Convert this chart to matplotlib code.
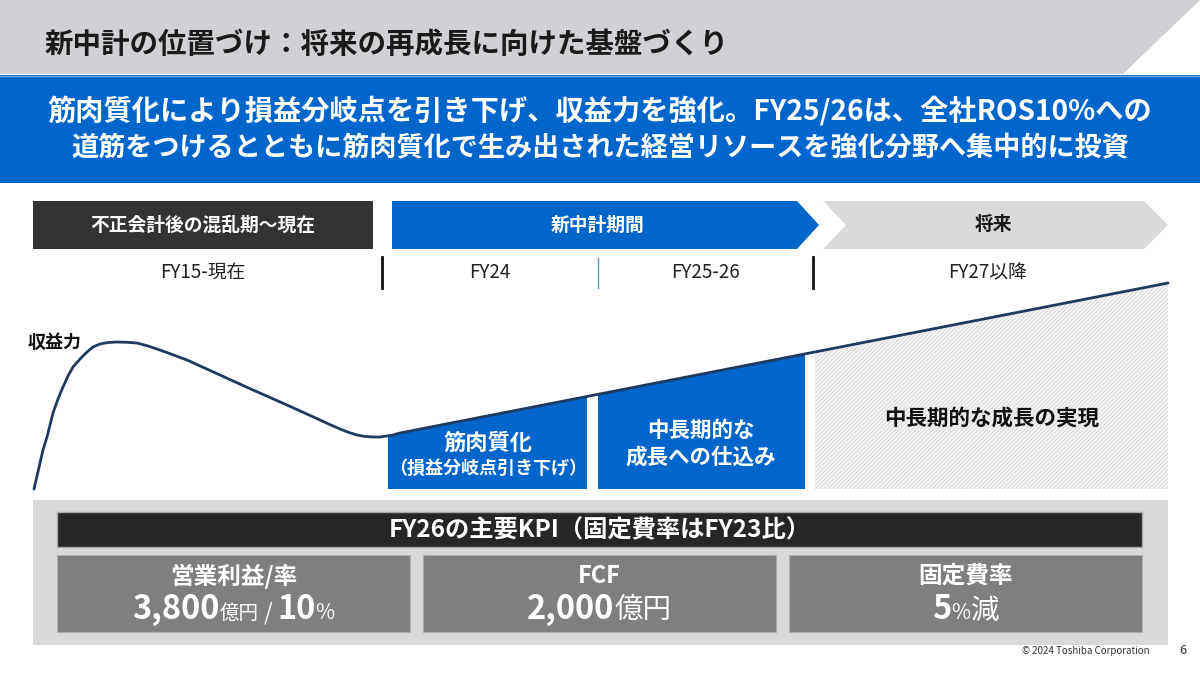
import numpy as np
import matplotlib
matplotlib.use("Agg")
import matplotlib.pyplot as plt
from matplotlib.patches import Polygon, Rectangle

plt.rcParams['font.family'] = ['Noto Sans CJK JP', 'DejaVu Sans']
plt.rcParams['hatch.linewidth'] = 0.5

# ---- data ----
title = "新中計の位置づけ：将来の再成長に向けた基盤づくり"
banner = ["筋肉質化により損益分岐点を引き下げ、収益力を強化。FY25/26は、全社ROS10%への",
          "道筋をつけるとともに筋肉質化で生み出された経営リソースを強化分野へ集中的に投資"]
phases = ["不正会計後の混乱期～現在", "新中計期間", "将来"]
periods = ["FY15-現在", "FY24", "FY25-26", "FY27以降"]
curve_label = "収益力"
# earning-power curve (slide px)
curve_x = [34, 37, 40, 43, 47, 50, 53, 58, 63, 68, 73, 80, 87, 93, 100, 108, 117, 127,
           137, 148, 160, 187, 220, 253, 287, 320, 332, 340, 349, 357, 365, 373, 380,
           387, 393, 400, 1168]
curve_y = [489, 476, 463, 450, 437, 425, 413, 399, 387, 376, 367, 359, 352, 347, 344,
           342.5, 342, 342.3, 343, 346, 350, 360, 375, 390, 405, 420, 425.5, 429, 432.5,
           435, 436.5, 437, 437, 436, 435, 433, 283]
stage_labels = [["筋肉質化", "（損益分岐点引き下げ）"],
                ["中長期的な", "成長への仕込み"],
                ["中長期的な成長の実現"]]
kpi_header = "FY26の主要KPI（固定費率はFY23比）"
kpi_names = ["営業利益/率", "FCF", "固定費率"]
# value pieces: (text, size, bold)
kpi_values = [[("3,800", 23.5, True), ("億円", 14, False), (" / ", 16, False),
               ("10", 23.5, True), ("%", 15, False)],
              [("2,000", 23.5, True), ("億円", 20.5, False)],
              [("5", 23.5, True), ("%", 15, False), ("減", 20.5, False)]]
footer = "© 2024 Toshiba Corporation"
page = "6"

BLUE = "#0066CC"

fig = plt.figure(figsize=(12, 6.75), dpi=100)
ax = fig.add_axes([0, 0, 1, 1])
ax.set_xlim(0, 1200)
ax.set_ylim(675, 0)
ax.axis('off')

# header band + title
ax.add_patch(Polygon([(0, 0), (1200, 0), (1123, 74), (0, 74)], closed=True,
                     fc="#D1D0D5", ec="none"))
ax.text(45, 45, title, fontsize=20.5, fontweight='bold', color="#1a1a1a", va='center')

# blue banner
ax.add_patch(Rectangle((0, 75), 1200, 108, fc=BLUE, ec="none"))
ax.plot([0, 1200], [75.5, 75.5], color="#6FA8DC", lw=1)
ax.text(600, 112, banner[0], fontsize=20.3, fontweight='bold', color='white',
        ha='center', va='center')
ax.text(600, 148, banner[1], fontsize=19.5, fontweight='bold', color='white',
        ha='center', va='center')

# phase arrows
ax.add_patch(Rectangle((33, 201), 340, 48, fc="#333333", ec="none"))
ax.add_patch(Polygon([(392, 201), (797, 201), (819, 225), (797, 249), (392, 249)],
                     closed=True, fc=BLUE, ec="none"))
ax.add_patch(Polygon([(823, 201), (1144, 201), (1168, 225), (1144, 249), (823, 249),
                      (846, 225)], closed=True, fc="#D9D9D9", ec="none"))
for x, lab, col in zip([203, 598, 993], phases, ['white', 'white', '#1a1a1a']):
    ax.text(x, 225, lab, fontsize=13.5, fontweight='bold', color=col,
            ha='center', va='center')

# period labels + separators
for x, lab in zip([203, 490, 705, 987], periods):
    ax.text(x, 273, lab, fontsize=13.5, color='#222222', ha='center', va='center')
ax.plot([382, 382], [257, 288], color='#111111', lw=2)
ax.plot([598, 598], [258, 288], color='#5B9BD5', lw=1)
ax.plot([813, 813], [257, 288], color='#111111', lw=2)


def top_at(x):
    return np.interp(x, curve_x, curve_y)


# stage boxes under the curve
base = 489
for x0, x1 in [(388, 587), (598, 805)]:
    ax.add_patch(Polygon([(x0, base), (x0, top_at(x0)), (x1, top_at(x1)), (x1, base)],
                         closed=True, fc=BLUE, ec="none", zorder=2))
ax.add_patch(Polygon([(815, base), (815, top_at(815)), (1168, top_at(1168)), (1168, base)],
                     closed=True, fc="#F5F5F5", ec="#CCCCCC", lw=0, hatch='////////',
                     zorder=2))

ax.text(488, 443, stage_labels[0][0], fontsize=16, fontweight='bold', color='white',
        ha='center', va='center', zorder=4)
ax.text(488, 468, stage_labels[0][1], fontsize=13, fontweight='bold', color='white',
        ha='center', va='center', zorder=4)
ax.text(701, 430, stage_labels[1][0], fontsize=15.5, fontweight='bold', color='white',
        ha='center', va='center', zorder=4)
ax.text(701, 457, stage_labels[1][1], fontsize=15.5, fontweight='bold', color='white',
        ha='center', va='center', zorder=4)
ax.text(992, 418, stage_labels[2][0], fontsize=15.5, fontweight='bold', color='#111111',
        ha='center', va='center', zorder=4)

# curve
ax.plot(curve_x, curve_y, color="#1F3A5F", lw=2, zorder=3,
        solid_capstyle='round', solid_joinstyle='round')
ax.text(28, 343, curve_label, fontsize=13, fontweight='bold', color='#111111',
        va='center', ha='left')

# KPI area
ax.add_patch(Rectangle((33, 500), 1135, 145, fc="#D9D9D9", ec="none"))
ax.add_patch(Rectangle((57, 512), 1085, 35, fc="#262626", ec="#A6A6A6", lw=1))
ax.text(600, 530, kpi_header, fontsize=17.5, fontweight='bold', color='white',
        ha='center', va='center')

renderer = fig.canvas.get_renderer()
for i, (name, pieces) in enumerate(zip(kpi_names, kpi_values)):
    x0 = 57 + i * 366
    ax.add_patch(Rectangle((x0, 555), 353, 77, fc="#7F7F7F", ec="#B0B0B0", lw=0.8))
    cx = x0 + 353 / 2
    ax.text(cx, 576, name, fontsize=17, fontweight='bold', color='white',
            ha='center', va='center')
    texts = []
    for s, size, bold in pieces:
        t = ax.text(0, 619, s, fontsize=size, fontweight='bold' if bold else 'normal',
                    color='white', ha='left', va='baseline')
        texts.append(t)
    widths = [t.get_window_extent(renderer).width for t in texts]
    x = cx - sum(widths) / 2
    for t, w in zip(texts, widths):
        t.set_x(x)
        x += w

# footer
ax.text(1150, 651, footer, fontsize=7, color='#333333', ha='right', va='center')
ax.text(1183, 651, page, fontsize=9, color='#333333', ha='center', va='center')

fig.savefig("out.png", dpi=100)
